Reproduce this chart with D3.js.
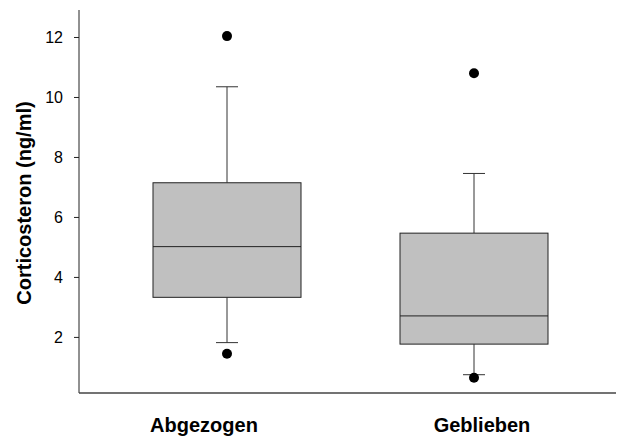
<!DOCTYPE html>
<html>
<head>
<meta charset="utf-8">
<script src="https://cdn.jsdelivr.net/npm/d3@7"></script>
<style>
  html, body { margin: 0; padding: 0; background: #ffffff; }
  svg { display: block; }
  text { font-family: Arial, "Liberation Sans", sans-serif; }
</style>
</head>
<body>
<svg id="chart" width="617" height="439"></svg>
<script>
// Group names
const categories = ["Abgezogen", "Geblieben"];
// Box statistics per group (ng/ml)
const whiskerLow  = [1.81, 0.74];
const quartile1   = [3.32, 1.76];
const medians     = [5.01, 2.70];
const quartile3   = [7.14, 5.46];
const whiskerHigh = [10.34, 7.45];
// Points outside the whiskers
const outliers = [[1.44, 12.03], [0.64, 10.79]];
// Y-axis ticks
const yTicks = [2, 4, 6, 8, 10, 12];

const svg = d3.select("#chart");
const plotLeft = 79, plotRight = 616, plotTop = 10, plotBottom = 393;

const x = d3.scalePoint().domain(categories).range([227, 474]);
const y = d3.scaleLinear().domain([0.13, 12.9]).range([plotBottom, plotTop]);

const boxW = 148, capW = 22;

const groups = categories.map((c, i) => ({
  name: c, lo: whiskerLow[i], q1: quartile1[i], med: medians[i],
  q3: quartile3[i], hi: whiskerHigh[i], out: outliers[i]
}));

const g = svg.append("g");

// Whiskers with end caps
groups.forEach(d => {
  const cx = x(d.name);
  g.append("line").attr("x1", cx).attr("x2", cx).attr("y1", y(d.q3)).attr("y2", y(d.hi))
    .attr("stroke", "#333").attr("stroke-width", 1);
  g.append("line").attr("x1", cx).attr("x2", cx).attr("y1", y(d.q1)).attr("y2", y(d.lo))
    .attr("stroke", "#333").attr("stroke-width", 1);
  [d.hi, d.lo].forEach(v => {
    g.append("line").attr("x1", cx - capW / 2).attr("x2", cx + capW / 2)
      .attr("y1", y(v)).attr("y2", y(v)).attr("stroke", "#333").attr("stroke-width", 1);
  });
});

// Boxes
g.selectAll("rect.box").data(groups).join("rect")
  .attr("class", "box")
  .attr("x", d => x(d.name) - boxW / 2)
  .attr("width", boxW)
  .attr("y", d => y(d.q3))
  .attr("height", d => y(d.q1) - y(d.q3))
  .attr("fill", "#c0c0c0")
  .attr("stroke", "#222")
  .attr("stroke-width", 1);

// Medians
g.selectAll("line.median").data(groups).join("line")
  .attr("class", "median")
  .attr("x1", d => x(d.name) - boxW / 2)
  .attr("x2", d => x(d.name) + boxW / 2)
  .attr("y1", d => y(d.med)).attr("y2", d => y(d.med))
  .attr("stroke", "#222").attr("stroke-width", 1);

// Outliers
groups.forEach(d => {
  g.selectAll(null).data(d.out).join("circle")
    .attr("cx", x(d.name)).attr("cy", v => y(v)).attr("r", 5)
    .attr("fill", "#000");
});

// Y axis
const yAxis = svg.append("g").attr("transform", `translate(${plotLeft},0)`)
  .call(d3.axisLeft(y).tickValues(yTicks).tickSize(5).tickPadding(11).tickFormat(d3.format("d")));
yAxis.select(".domain").attr("d", `M0,${plotTop}V${plotBottom}`).attr("stroke", "#222");
yAxis.selectAll(".tick line").attr("stroke", "#222");
yAxis.selectAll(".tick text").attr("font-size", 16).attr("fill", "#000")
  .attr("font-family", "Arial, 'Liberation Sans', sans-serif");

// X axis baseline
svg.append("line").attr("x1", plotLeft).attr("x2", plotRight).attr("y1", plotBottom).attr("y2", plotBottom)
  .attr("stroke", "#444").attr("stroke-width", 1.5);

// Category labels
const labelShift = [-23, 8];
svg.selectAll("text.cat").data(categories).join("text")
  .attr("class", "cat")
  .attr("x", (d, i) => x(d) + labelShift[i])
  .attr("y", 432)
  .attr("text-anchor", "middle")
  .attr("font-size", 20).attr("font-weight", "bold")
  .text(d => d);

// Y title
svg.append("text")
  .attr("transform", "translate(31,203) rotate(-90)")
  .attr("text-anchor", "middle")
  .attr("font-size", 20).attr("font-weight", "bold")
  .text("Corticosteron (ng/ml)");
</script>
</body>
</html>
